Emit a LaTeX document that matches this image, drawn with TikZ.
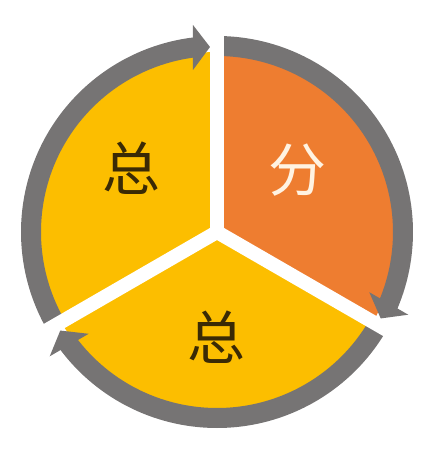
\documentclass[tikz,border=0pt]{standalone}
\usepackage{fontspec}
\newfontfamily\cjkfont{Noto Sans CJK SC}
\definecolor{goldyellow}{HTML}{FCBE00}
\definecolor{deeporange}{HTML}{EE7D30}
\definecolor{ringgray}{HTML}{767474}
\definecolor{inkbrown}{HTML}{3A2A05}
\definecolor{creamwhite}{HTML}{FFF3E2}
\begin{document}
\begin{tikzpicture}[
    ringarc/.style={draw=ringgray, line width=0.4cm},
    gapband/.style={draw=white, line width=0.28cm, line cap=round},
    arrowhead/.style={fill=ringgray},
    bigchar/.style={font=\cjkfont\fontsize{33}{33}\selectfont, inner sep=0pt}
  ]
    \useasboundingbox (-4.34,-4.68) rectangle (4.34,4.64);

    % three sectors
    \fill[goldyellow] (0,0) -- (90:3.6) arc[start angle=90, end angle=210, radius=3.6] -- cycle;
    \fill[deeporange] (0,0) -- (-30:3.6) arc[start angle=-30, end angle=90, radius=3.6] -- cycle;
    \fill[goldyellow] (0,0) -- (210:3.6) arc[start angle=210, end angle=330, radius=3.6] -- cycle;

    % gray ring, one arc per sector
    \foreach \g [evaluate=\g as \s using \g+120, evaluate=\g as \e using \g+5] in {90,330,210}
        \draw[ringarc] (\s:3.72) arc[start angle=\s, end angle=\e, radius=3.72];

    % white gaps
    \foreach \g in {90,330,210}
        \draw[gapband] (0,0) -- (\g:4.6);

    % arrow heads at the gaps
    \foreach \g in {90,330,210}
        \fill[arrowhead, rotate=\g-90] (-0.14,3.70) -- (-0.48,4.14) -- (-0.48,3.24) -- cycle;

    \node[bigchar, text=inkbrown] (zongtop) at (-1.72,1.28) {总};
    \node[bigchar, text=creamwhite] (fen) at (1.60,1.24) {分};
    \node[bigchar, text=inkbrown] (zongbottom) at (-0.02,-2.10) {总};
\end{tikzpicture}
\end{document}
